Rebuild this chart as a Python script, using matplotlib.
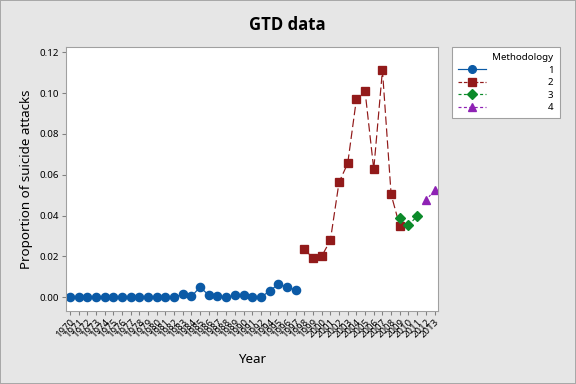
import matplotlib.pyplot as plt
from matplotlib.lines import Line2D
from matplotlib.patches import Rectangle

plt.rcParams['font.family'] = ['Noto Sans', 'DejaVu Sans']

# ---- data ----
# GTD has no 1993
years = [y for y in range(1970, 2014) if y != 1993]

years_1 = [y for y in range(1970, 1998) if y != 1993]
vals_1 = [0.0, 0.0, 0.0, 0.0, 0.0, 0.0, 0.0, 0.0, 0.0, 0.0, 0.0, 0.0, 0.0,
          0.0015, 0.0005, 0.005, 0.001, 0.0005, 0.0, 0.001, 0.001, 0.0, 0.0,
          0.0031, 0.0064, 0.005, 0.0036]

years_2 = list(range(1998, 2010))
vals_2 = [0.0237, 0.0191, 0.0201, 0.0279, 0.0563, 0.0656, 0.097, 0.1009,
          0.0627, 0.1112, 0.0504, 0.0348]

years_3 = [2009, 2010, 2011]
vals_3 = [0.0387, 0.0354, 0.0397]

years_4 = [2012, 2013]
vals_4 = [0.0475, 0.0524]

pos = {y: i for i, y in enumerate(years)}

#-----Plot-----#
bg = '#e6e6e6'
fig = plt.figure(figsize=(6, 4), dpi=96, facecolor=bg)
fig.patches.append(Rectangle((0, 0), 1, 1, transform=fig.transFigure,
                             fill=False, edgecolor='#a8a8a8', lw=1.5))
ax = fig.add_axes([66/576, 1-311/384, 372/576, 264/384])

blue = '#0b5aa6'
red = '#921a1a'
green = '#0c8a2a'
purple = '#8e22b4'

ax.plot([pos[y] for y in years_1], vals_1, color=blue, lw=0.9, ls='-',
        marker='o', ms=6.2, label='1')
ax.plot([pos[y] for y in years_2], vals_2, color=red, lw=0.9, ls=(0, (7, 3)),
        marker='s', ms=6.2, label='2')
ax.plot([pos[y] for y in years_3], vals_3, color=green, lw=0.9, ls=(0, (4, 3)),
        marker='D', ms=5.2, label='3')
ax.plot([pos[y] for y in years_4], vals_4, color=purple, lw=0.9, ls=(0, (2, 2)),
        marker='^', ms=6.5, label='4')

ax.set_xlim(-0.45, 42.4)
ax.set_ylim(-0.0067, 0.1226)
ax.set_yticks([0, 0.02, 0.04, 0.06, 0.08, 0.10, 0.12])
ax.set_yticklabels(['0.00', '0.02', '0.04', '0.06', '0.08', '0.10', '0.12'])
ax.set_xticks(range(len(years)))
ax.set_xticklabels([str(y) for y in years], rotation=45, ha='right',
                   rotation_mode='anchor', fontsize=7.2)
ax.tick_params(axis='y', labelsize=7.3, length=3, color='#808080', pad=2)
ax.tick_params(axis='x', length=3, color='#808080', pad=2)
for s in ax.spines.values():
    s.set_color('#a0a0a0')

ax.set_xlabel('Year', fontsize=10, labelpad=10)
ax.set_ylabel('Proportion of suicide attacks', fontsize=10, labelpad=5)
fig.suptitle('GTD data', fontsize=12.5, fontweight='bold', x=287/576, y=1-16/384,
             family=['Open Sans', 'DejaVu Sans'])

handles = [
    Line2D([], [], color=blue, lw=0.9, ls='-', marker='o', ms=5.8),
    Line2D([], [], color=red, lw=0.9, ls=(0, (3, 1.5)), marker='s', ms=5.8),
    Line2D([], [], color=green, lw=0.9, ls=(0, (2.5, 2)), marker='D', ms=5),
    Line2D([], [], color=purple, lw=0.9, ls=(0, (2.5, 2)), marker='^', ms=5.8),
]
leg = fig.legend(handles, ['1', '2', '3', '4'], loc='upper left',
                 bbox_to_anchor=(452/576, 1-47/384), borderaxespad=0,
                 title='Methodology',
                 alignment='right', fontsize=7.3, title_fontsize=7.3,
                 handlelength=2.8, handletextpad=6.4, borderpad=0.65,
                 labelspacing=0.35, fancybox=False, edgecolor='#a0a0a0',
                 framealpha=1)
leg.get_frame().set_linewidth(0.8)

fig.savefig('out.png', dpi=96, facecolor=bg)
